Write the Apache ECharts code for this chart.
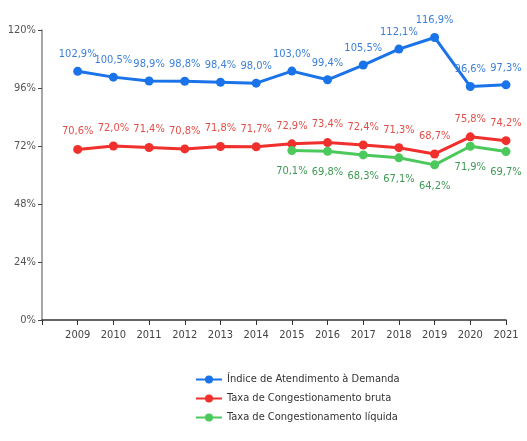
<!DOCTYPE html>
<html><head><meta charset="utf-8">
<script src="https://cdn.jsdelivr.net/npm/echarts@6/dist/echarts.min.js"></script>
<style>html,body{margin:0;padding:0;background:#fff}#c{width:527px;height:441px}</style>
</head><body><div id="c"></div>
<script>
var years = [2009,2010,2011,2012,2013,2014,2015,2016,2017,2018,2019,2020,2021];
var indiceAtendimento = [102.9,100.5,98.9,98.8,98.4,98.0,103.0,99.4,105.5,112.1,116.9,96.6,97.3];
var taxaBruta = [70.6,72.0,71.4,70.8,71.8,71.7,72.9,73.4,72.4,71.3,68.7,75.8,74.2];
var liquidaYears = [2015,2016,2017,2018,2019,2020,2021];
var taxaLiquida = [70.1,69.8,68.3,67.1,64.2,71.9,69.7];
var yTicks = [0,24,48,72,96,120];
var names = ['Índice de Atendimento à Demanda','Taxa de Congestionamento bruta','Taxa de Congestionamento líquida'];

var FONT = '"DejaVu Sans Condensed","Liberation Sans Narrow",sans-serif';
function pct(v){ return v.toFixed(1).replace('.', ',') + '%'; }
function pairs(xs, ys){ return xs.map(function(x,i){ return [x, ys[i]]; }); }

var chart = echarts.init(document.getElementById('c'));
chart.setOption({
  animation:false,
  grid:{left:42,right:21,top:30,bottom:121,containLabel:false},
  xAxis:{type:'value',min:2008,max:2021,interval:1,
    axisLine:{show:true,lineStyle:{color:'#333',width:1.5}},
    axisTick:{show:true,inside:false,length:5,lineStyle:{color:'#333'}},
    splitLine:{show:false},
    axisLabel:{color:'#444',fontFamily:FONT,fontSize:11,margin:10,
      formatter:function(v){ return years.indexOf(v)>=0 ? String(v) : ''; }}
  },
  yAxis:{type:'value',min:yTicks[0],max:yTicks[yTicks.length-1],interval:24,
    axisLine:{show:true,lineStyle:{color:'#888',width:1.5}},
    axisTick:{show:true,length:4,lineStyle:{color:'#444'}},
    splitLine:{show:false},
    axisLabel:{color:'#555',fontFamily:FONT,fontSize:11,margin:6,formatter:function(v){return v+'%';}}
  },
  legend:{orient:'vertical',left:190,top:369,itemGap:8,itemWidth:26,itemHeight:10,
    textStyle:{color:'#333',fontFamily:FONT,fontSize:11},
    data:names},
  series:[
    {name:names[0],type:'line',data:pairs(years,indiceAtendimento),symbol:'circle',symbolSize:9,
      lineStyle:{width:3,color:'#1a73e8'},itemStyle:{color:'#1a73e8'},
      label:{show:true,position:'top',distance:7,color:'#3b7fd9',fontFamily:FONT,fontSize:11,
        formatter:function(p){return pct(p.value[1]);}}},
    {name:names[1],type:'line',data:pairs(years,taxaBruta),symbol:'circle',symbolSize:9,
      lineStyle:{width:3,color:'#f0302c'},itemStyle:{color:'#f0302c'},
      label:{show:true,position:'top',distance:8,color:'#e0504a',fontFamily:FONT,fontSize:11,
        formatter:function(p){return pct(p.value[1]);}}},
    {name:names[2],type:'line',data:pairs(liquidaYears,taxaLiquida),symbol:'circle',symbolSize:9,
      lineStyle:{width:3,color:'#4cc95c'},itemStyle:{color:'#4cc95c'},
      label:{show:true,position:'bottom',distance:11,color:'#3f9a55',fontFamily:FONT,fontSize:11,
        formatter:function(p){return pct(p.value[1]);}}}
  ]
});
</script></body></html>
